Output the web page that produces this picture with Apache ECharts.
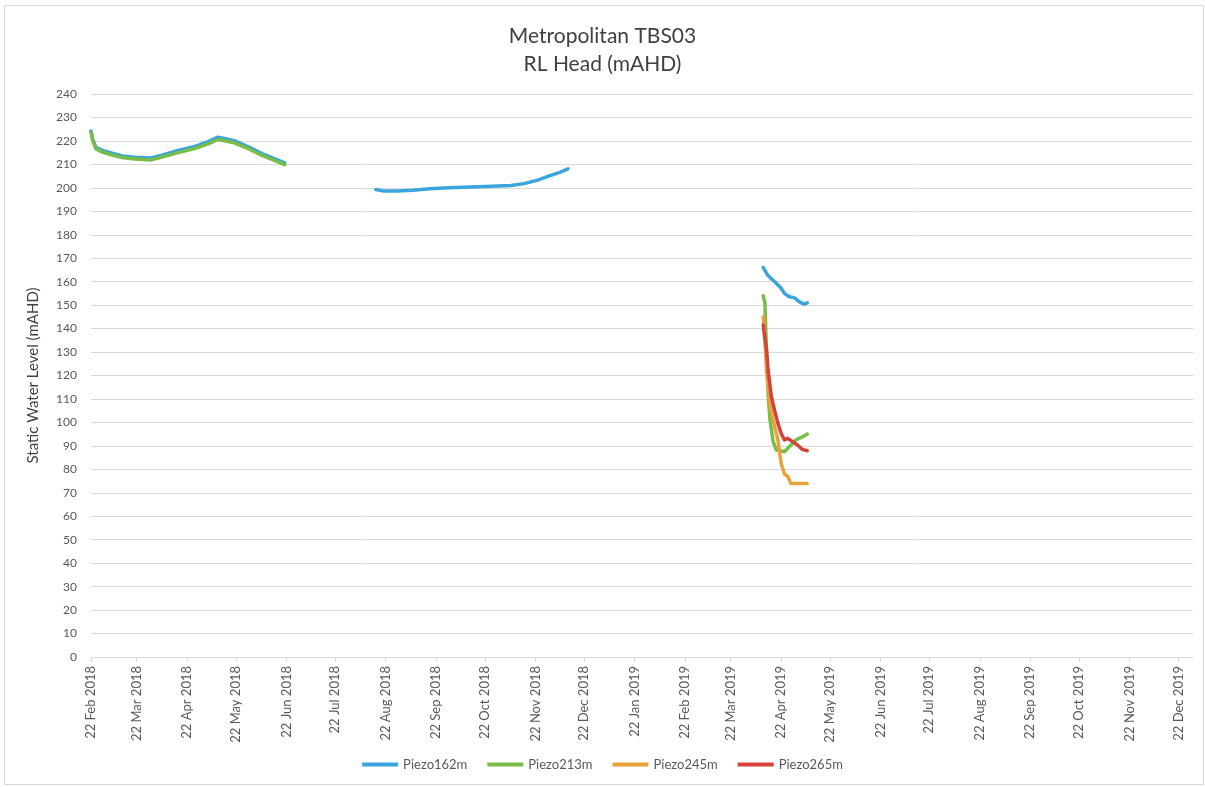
<!DOCTYPE html>
<html>
<head>
<meta charset="utf-8">
<script src="https://cdn.jsdelivr.net/npm/echarts@6/dist/echarts.min.js"></script>
<style>
html,body{margin:0;padding:0;background:#fff;}
#chart{width:1205px;height:787px;}
</style>
</head>
<body>
<div id="chart"></div>
<script>
// ---------- DATA ----------
const titleLines = ['Metropolitan TBS03', 'RL Head (mAHD)'];
const yAxisTitle = 'Static Water Level (mAHD)';
const seriesNames = ['Piezo162m', 'Piezo213m', 'Piezo245m', 'Piezo265m'];
const seriesColors = ['#3aa5dd', '#79bd48', '#e8a23b', '#d5423a'];

const xAxisMin = '2018-02-22';
const xAxisMax = '2019-12-31';
const xTickDates = [
  '2018-02-22','2018-03-22','2018-04-22','2018-05-22','2018-06-22','2018-07-22',
  '2018-08-22','2018-09-22','2018-10-22','2018-11-22','2018-12-22','2019-01-22',
  '2019-02-22','2019-03-22','2019-04-22','2019-05-22','2019-06-22','2019-07-22',
  '2019-08-22','2019-09-22','2019-10-22','2019-11-22','2019-12-22'
];
const yMin = 0, yMax = 240, yStep = 10;

// Piezo162m — three separate logging periods
const piezo162Seg1 = [
  ['2018-02-22',224.2],['2018-02-23',220.8],['2018-02-25',217.3],['2018-03-01',215.9],
  ['2018-03-07',214.8],['2018-03-13',213.6],['2018-03-21',213.0],['2018-03-31',212.7],
  ['2018-04-06',213.8],['2018-04-16',215.8],['2018-04-26',217.5],['2018-05-05',219.7],
  ['2018-05-11',221.6],['2018-05-15',221.0],['2018-05-21',220.1],['2018-05-30',217.4],
  ['2018-06-07',214.6],['2018-06-15',212.3],['2018-06-21',210.6]
];
const piezo162Seg2 = [
  ['2018-08-16',199.3],['2018-08-21',198.6],['2018-08-29',198.6],['2018-09-08',199.0],
  ['2018-09-18',199.6],['2018-09-30',200.0],['2018-10-13',200.4],['2018-10-26',200.7],
  ['2018-11-07',201.0],['2018-11-15',201.8],['2018-11-23',203.2],['2018-12-01',205.2],
  ['2018-12-07',206.6],['2018-12-12',208.1]
];
const piezo162Seg3 = [
  ['2019-04-11',166.0],['2019-04-14',162.5],['2019-04-19',159.3],['2019-04-22',157.2],
  ['2019-04-24',155.0],['2019-04-27',153.6],['2019-04-30',153.2],['2019-05-03',151.5],
  ['2019-05-06',150.4],['2019-05-08',151.0]
];
// Piezo213m
const piezo213Seg1 = [
  ['2018-02-22',223.7],['2018-02-23',220.1],['2018-02-25',216.6],['2018-03-01',215.2],
  ['2018-03-07',214.0],['2018-03-13',212.9],['2018-03-21',212.3],['2018-03-31',211.9],
  ['2018-04-06',213.0],['2018-04-16',214.9],['2018-04-26',216.6],['2018-05-05',218.7],
  ['2018-05-11',220.6],['2018-05-15',220.1],['2018-05-21',219.2],['2018-05-30',216.6],
  ['2018-06-07',213.8],['2018-06-15',211.6],['2018-06-21',209.9]
];
const piezo213Seg3 = [
  ['2019-04-11',154.0],['2019-04-12',151.0],['2019-04-13',130.0],['2019-04-14',112.0],
  ['2019-04-15',102.0],['2019-04-17',92.0],['2019-04-19',88.2],['2019-04-22',87.8],
  ['2019-04-24',87.5],['2019-04-27',89.6],['2019-05-01',92.5],['2019-05-04',93.5],
  ['2019-05-08',95.0]
];
// Piezo245m
const piezo245Seg3 = [
  ['2019-04-11',145.0],['2019-04-12',135.0],['2019-04-13',122.0],['2019-04-15',108.0],
  ['2019-04-17',101.0],['2019-04-20',92.5],['2019-04-22',82.5],['2019-04-24',78.0],
  ['2019-04-26',77.0],['2019-04-28',74.0],['2019-05-08',74.0]
];
// Piezo265m
const piezo265Seg3 = [
  ['2019-04-11',141.5],['2019-04-12',136.0],['2019-04-13',131.0],['2019-04-14',122.0],
  ['2019-04-16',111.0],['2019-04-18',105.0],['2019-04-20',99.6],['2019-04-22',95.3],
  ['2019-04-24',92.5],['2019-04-26',93.2],['2019-04-29',91.8],['2019-05-02',90.4],
  ['2019-05-05',88.5],['2019-05-08',87.9]
];

const seriesSegments = [
  [piezo162Seg1, piezo162Seg2, piezo162Seg3],
  [piezo213Seg1, piezo213Seg3],
  [piezo245Seg3],
  [piezo265Seg3]
];

// ---------- BUILD ----------
const MONTHS = ['Jan','Feb','Mar','Apr','May','Jun','Jul','Aug','Sep','Oct','Nov','Dec'];
const ts = s => Date.parse(s); // ISO date-only strings parse as UTC

function joinSegments(segs) {
  const out = [];
  segs.forEach((seg, i) => {
    if (i > 0) {
      const prev = segs[i - 1];
      const gapTs = Math.round((ts(prev[prev.length - 1][0]) + ts(seg[0][0])) / 2);
      out.push([gapTs, null]); // break the line between logging periods
    }
    seg.forEach(p => out.push([ts(p[0]), p[1]]));
  });
  return out;
}

const FONT = 'Lato, "Open Sans", sans-serif';
const tickValues = xTickDates.map(ts);

const chart = echarts.init(document.getElementById('chart'), null, { renderer: 'canvas' });
chart.setOption({
  animation: false,
  backgroundColor: '#ffffff',
  textStyle: { fontFamily: FONT },
  title: {
    text: titleLines.join('\n'),
    left: 'center',
    top: 17,
    textStyle: { fontFamily: FONT, fontSize: 21, fontWeight: 'normal', color: '#404040', lineHeight: 28 }
  },
  graphic: [{
    type: 'rect',
    shape: { x: 4.5, y: 5.5, width: 1199, height: 779 },
    style: { fill: 'none', stroke: '#d9d9d9', lineWidth: 1 },
    silent: true
  }],
  legend: {
    data: seriesNames,
    bottom: 11,
    left: 'center',
    icon: 'rect',
    itemWidth: 36,
    itemHeight: 4,
    itemGap: 20,
    textStyle: { fontFamily: FONT, fontSize: 13, color: '#595959' }
  },
  grid: { left: 91, right: 12, top: 94, bottom: 130, containLabel: false },
  xAxis: {
    type: 'value',
    min: ts(xAxisMin),
    max: ts(xAxisMax),
    scale: true,
    splitLine: { show: false },
    axisLine: { show: true, onZero: false, lineStyle: { color: '#d9d9d9', width: 1 } },
    axisTick: { show: true, customValues: tickValues, length: 5, lineStyle: { color: '#d9d9d9' } },
    axisLabel: {
      customValues: tickValues,
      rotate: 90,
      margin: 9,
      fontSize: 13,
      color: '#595959',
      fontFamily: FONT,
      formatter: function (v) {
        const d = new Date(v);
        return d.getUTCDate() + ' ' + MONTHS[d.getUTCMonth()] + ' ' + d.getUTCFullYear();
      }
    }
  },
  yAxis: {
    type: 'value',
    min: yMin,
    max: yMax,
    interval: yStep,
    name: yAxisTitle,
    nameLocation: 'middle',
    nameGap: 50,
    nameTextStyle: { fontFamily: FONT, fontSize: 15, color: '#404040' },
    axisLine: { show: false },
    axisTick: { show: false },
    axisLabel: { fontSize: 12, color: '#595959', margin: 14, fontFamily: FONT },
    splitLine: { show: true, lineStyle: { color: '#d9d9d9', width: 1 } }
  },
  series: seriesNames.map((name, i) => ({
    name: name,
    type: 'line',
    data: joinSegments(seriesSegments[i]),
    showSymbol: false,
    symbol: 'none',
    connectNulls: false,
    smooth: false,
    color: seriesColors[i],
    lineStyle: { width: 3.5, color: seriesColors[i], cap: 'round', join: 'round' },
    z: 2 + i
  }))
});
</script>
</body>
</html>
